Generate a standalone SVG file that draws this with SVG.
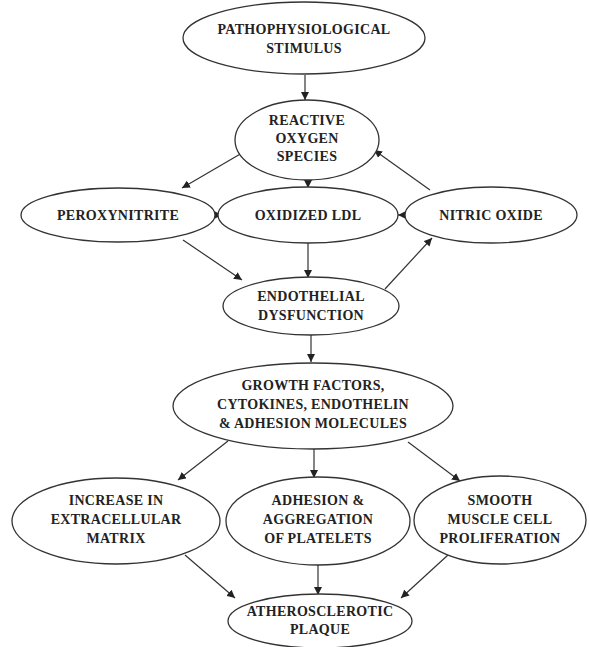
<svg xmlns="http://www.w3.org/2000/svg" width="589" height="647" viewBox="0 0 589 647">
<style>
.n ellipse{fill:#fff;stroke:#333;stroke-width:1.3}
.n text{font-family:"Liberation Serif","Times New Roman",serif;font-weight:bold;font-size:14px;letter-spacing:0.3px;fill:#222;text-anchor:middle}
.c line{stroke:#333;stroke-width:1.2;marker-end:url(#a)}
</style>
<defs>
<marker id="a" viewBox="0 0 10 10" refX="10" refY="5" markerWidth="8" markerHeight="8" markerUnits="userSpaceOnUse" orient="auto">
<path d="M0,0L10,5L0,10z" fill="#222"/>
</marker>
</defs>
<rect width="589" height="647" fill="#fff"/>
<g class="c">
<line x1="305" y1="75" x2="305" y2="100"/>
<line x1="242" y1="153" x2="182" y2="188"/>
<line x1="308" y1="180" x2="308" y2="188"/>
<line x1="430" y1="190" x2="374" y2="150"/>
<line x1="215" y1="215" x2="222" y2="215"/>
<line x1="405" y1="215" x2="398" y2="215"/>
<line x1="183" y1="240" x2="242" y2="280"/>
<line x1="308" y1="243" x2="308" y2="278"/>
<line x1="385" y1="289" x2="432" y2="238"/>
<line x1="311" y1="335" x2="311" y2="362"/>
<line x1="228" y1="441" x2="178" y2="480"/>
<line x1="314" y1="449" x2="314" y2="478"/>
<line x1="408" y1="442" x2="460" y2="481"/>
<line x1="185" y1="555" x2="235" y2="598"/>
<line x1="318" y1="565" x2="318" y2="595"/>
<line x1="448" y1="555" x2="401" y2="598"/>
</g>
<g id="stimulus" class="n"><ellipse cx="304" cy="38" rx="121" ry="36"/><text x="304" y="34">PATHOPHYSIOLOGICAL</text><text x="304" y="53">STIMULUS</text></g>
<g id="ros" class="n"><ellipse cx="307" cy="140" rx="72" ry="40"/><text x="307" y="125">REACTIVE</text><text x="307" y="143">OXYGEN</text><text x="307" y="161">SPECIES</text></g>
<g id="peroxynitrite" class="n"><ellipse cx="118" cy="215" rx="97" ry="27"/><text x="118" y="220">PEROXYNITRITE</text></g>
<g id="oxldl" class="n"><ellipse cx="308" cy="215" rx="90" ry="28"/><text x="308" y="220">OXIDIZED LDL</text></g>
<g id="nitric" class="n"><ellipse cx="491" cy="215" rx="86" ry="28"/><text x="491" y="220">NITRIC OXIDE</text></g>
<g id="endothelial" class="n"><ellipse cx="311" cy="306" rx="88" ry="29"/><text x="311" y="301">ENDOTHELIAL</text><text x="311" y="320">DYSFUNCTION</text></g>
<g id="growth" class="n"><ellipse cx="313" cy="406" rx="140" ry="43"/><text x="313" y="390">GROWTH FACTORS,</text><text x="313" y="409">CYTOKINES, ENDOTHELIN</text><text x="313" y="428">&amp; ADHESION MOLECULES</text></g>
<g id="ecm" class="n"><ellipse cx="116" cy="521" rx="104" ry="43"/><text x="116" y="505">INCREASE IN</text><text x="116" y="524">EXTRACELLULAR</text><text x="116" y="543">MATRIX</text></g>
<g id="platelets" class="n"><ellipse cx="318" cy="521" rx="92" ry="44"/><text x="318" y="505">ADHESION &amp;</text><text x="318" y="524">AGGREGATION</text><text x="318" y="543">OF PLATELETS</text></g>
<g id="smc" class="n"><ellipse cx="500" cy="520" rx="86" ry="44"/><text x="500" y="505">SMOOTH</text><text x="500" y="524">MUSCLE CELL</text><text x="500" y="543">PROLIFERATION</text></g>
<g id="plaque" class="n"><ellipse cx="320" cy="621" rx="92" ry="27"/><text x="320" y="616">ATHEROSCLEROTIC</text><text x="320" y="634">PLAQUE</text></g>
</svg>
